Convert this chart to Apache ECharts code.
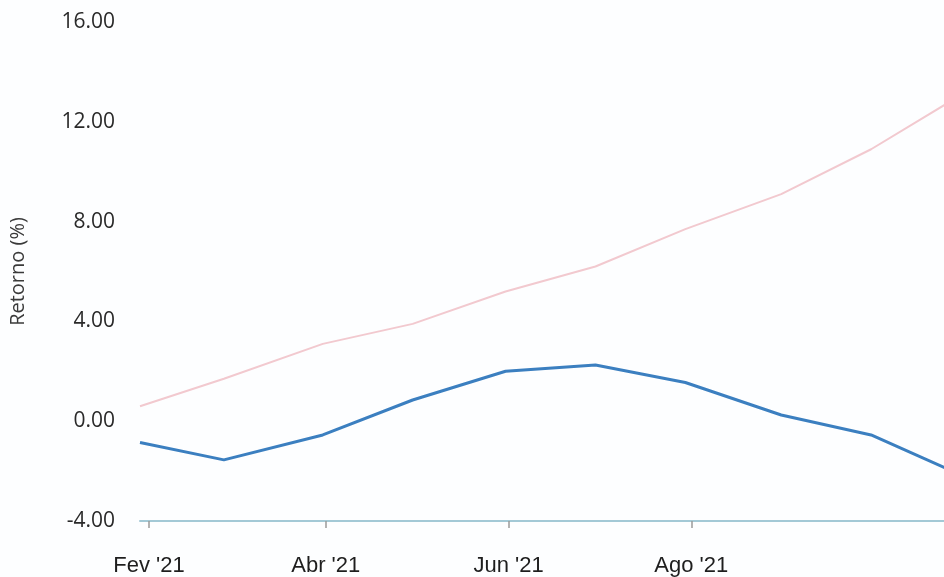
<!DOCTYPE html>
<html>
<head>
<meta charset="utf-8">
<script src="https://cdn.jsdelivr.net/npm/echarts@6/dist/echarts.min.js"></script>
<style>
html,body{margin:0;padding:0;background:#fdfeff;}
#chart{width:944px;height:577px;}
</style>
</head>
<body>
<div id="chart"></div>
<script>
// Month-end (business day) dates
var dates = ['2021-01-29','2021-02-26','2021-03-31','2021-04-30','2021-05-31','2021-06-30','2021-07-30','2021-08-31','2021-09-30','2021-10-29'];
var seriesBlue = [-0.85, -1.55, -0.55, 0.85, 2.0, 2.25, 1.55, 0.25, -0.55, -2.1];
var seriesRed  = [0.6, 1.7, 3.1, 3.9, 5.2, 6.2, 7.7, 9.1, 10.9, 13.0];
var tickDates = ['2021-02-01','2021-04-01','2021-06-01','2021-08-01'];
var tickLabels = ["Fev '21", "Abr '21", "Jun '21", "Ago '21"];
var yMin = -4, yMax = 16, yStep = 4;

function ts(s){ var p = s.split('-'); return Date.UTC(+p[0], +p[1]-1, +p[2]); }
var tickTs = tickDates.map(ts);
var blueData = dates.map(function(d,i){ return [ts(d), seriesBlue[i]]; });
var redData = dates.map(function(d,i){ return [ts(d), seriesRed[i]]; });

var chart = echarts.init(document.getElementById('chart'));
chart.setOption({
  backgroundColor: '#fdfeff',
  animation: false,
  grid: { left: 140, width: 818, top: 22, height: 499, containLabel: false, outerBoundsMode: 'none' },
  xAxis: {
    type: 'value',
    min: ts(dates[0]),
    max: ts(dates[dates.length-1]),
    axisLine: { show: true, onZero: false, lineStyle: { color: '#a3c9d6', width: 2 } },
    axisTick: { show: true, customValues: tickTs, length: 7, lineStyle: { color: '#9a9a9a', width: 1.5 } },
    axisLabel: {
      customValues: tickTs,
      margin: 34,
      fontFamily: 'Liberation Sans, Arial, sans-serif',
      fontSize: 22,
      color: '#1e1e1e',
      formatter: function(v){ var i = tickTs.indexOf(v); return i >= 0 ? tickLabels[i] : ''; }
    },
    splitLine: { show: false }
  },
  yAxis: {
    type: 'value',
    min: yMin, max: yMax, interval: yStep,
    name: 'Retorno (%)',
    nameLocation: 'middle',
    nameGap: 112,
    nameTextStyle: { fontFamily: 'Open Sans, sans-serif', fontSize: 20, color: '#3a3a3a' },
    axisLine: { show: false },
    axisTick: { show: false },
    splitLine: { show: false },
    axisLabel: {
      margin: 25,
      fontFamily: 'Open Sans, sans-serif',
      fontSize: 21,
      color: '#2a2a2a',
      formatter: function(v){ return v.toFixed(2); }
    }
  },
  series: [
    { type: 'line', data: redData, showSymbol: false, smooth: false,
      lineStyle: { color: '#f2c9cf', width: 2 }, z: 2 },
    { type: 'line', data: blueData, showSymbol: false, smooth: false,
      lineStyle: { color: '#3b7fc0', width: 3 }, z: 3 }
  ]
});
</script>
</body>
</html>
